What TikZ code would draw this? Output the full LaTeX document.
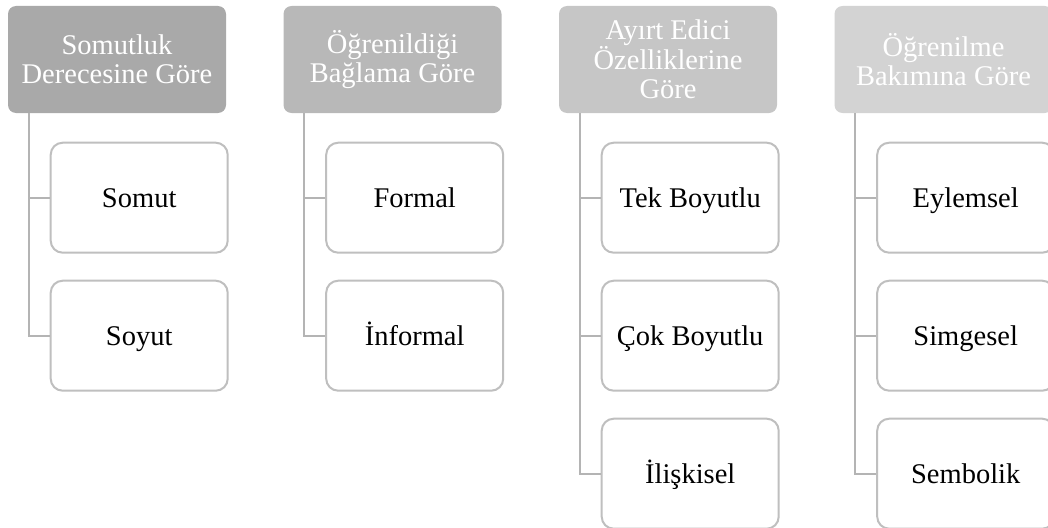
\documentclass[tikz,border=0pt]{standalone}
\usepackage{fontspec}
\setmainfont{Liberation Serif}
\definecolor{hA}{HTML}{A9A9A9}
\definecolor{hB}{HTML}{B8B8B8}
\definecolor{hC}{HTML}{C6C6C6}
\definecolor{hD}{HTML}{D3D3D3}
\definecolor{cbord}{HTML}{BFBFBF}
\definecolor{conn}{HTML}{B4B4B4}
\tikzset{
  head/.style={rounded corners=8pt, minimum width=218pt, minimum height=107pt, inner sep=0pt,
    text=white, align=center, font=\fontsize{28.5}{29}\selectfont},
  child/.style={draw=cbord, line width=2pt, fill=white, rounded corners=12pt, minimum width=177pt,
    minimum height=110pt, inner sep=0pt, text height=20pt, text depth=1pt,
    font=\fontsize{28.5}{29}\selectfont},
  link/.style={draw=conn, line width=2pt}
}
\begin{document}
\begin{tikzpicture}[x=1pt,y=-1pt]
\useasboundingbox (0,0) rectangle (1048,527);
% headers
\node[head, fill=hA] (h1) at (117,59.5) {Somutluk\\Derecesine Göre};
\node[head, fill=hB] (h2) at (392.5,59.5) {Öğrenildiği\\Bağlama Göre};
\node[head, fill=hC] (h3) at (668,59.5) {Ayırt Edici\\Özelliklerine\\Göre};
\node[head, fill=hD] (h4) at (943.5,59.5) {Öğrenilme\\Bakımına Göre};
% children
\node[child] (c11) at (139.2,197.7) {Somut};
\node[child] (c12) at (139.2,335.7) {Soyut};
\node[child] (c21) at (414.7,197.7) {Formal};
\node[child] (c22) at (414.7,335.7) {İnformal};
\node[child] (c31) at (690.2,197.7) {Tek Boyutlu};
\node[child] (c32) at (690.2,335.7) {Çok Boyutlu};
\node[child] (c33) at (690.2,473.7) {İlişkisel};
\node[child] (c41) at (965.7,197.7) {Eylemsel};
\node[child] (c42) at (965.7,335.7) {Simgesel};
\node[child] (c43) at (965.7,473.7) {Sembolik};
% connectors
\foreach \h/\c in {h1/c11,h1/c12,h2/c21,h2/c22,h3/c31,h3/c32,h3/c33,h4/c41,h4/c42,h4/c43}{
  \draw[link] ([xshift=21pt]\h.south west) |- (\c.west);
}
\end{tikzpicture}
\end{document}
